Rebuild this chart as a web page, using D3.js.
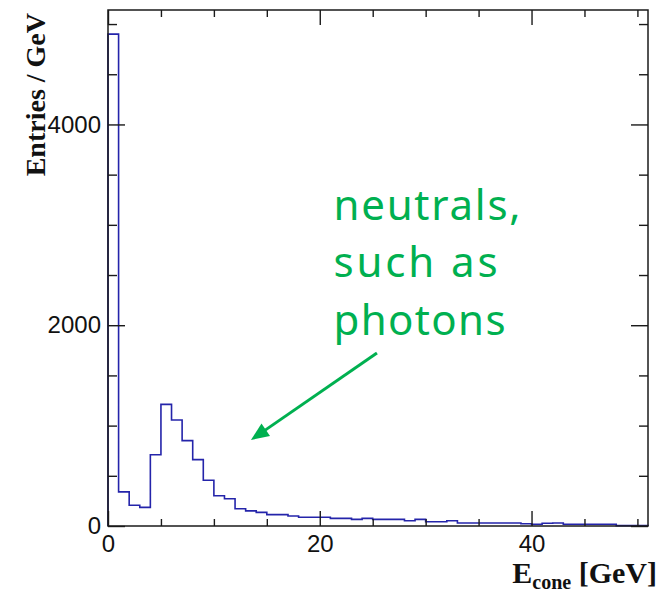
<!DOCTYPE html>
<html><head><meta charset="utf-8">
<script src="https://cdn.jsdelivr.net/npm/d3@7"></script>
<style>html,body{margin:0;padding:0;background:#fff;} svg{display:block;}</style>
</head><body>
<svg id="chart" width="659" height="600"></svg>
<script>
// ---- data ----
const binLowEdges = [0,1,2,3,4,5,6,7,8,9,10,11,12,13,14,15,16,17,18,19,20,21,22,23,24,25,26,27,28,29,30,31,32,33,34,35,36,37,38,39,40,41,42,43,44,45,46,47,48,49,50];
const binWidth = 1;
const counts = [4900,340,206,186,710,1212,1056,850,661,455,302,272,172,151,136,113,113,100,87,87,87,76,76,66,76,66,66,66,53,66,43,43,53,30,30,30,30,30,30,22,18,27,30,18,18,18,18,18,4,4,4];
const xDomain = [0, 51];
const yDomain = [0, 5140];
const xMajorTicks = [0, 20, 40];
const xTickLabels = ["0", "20", "40"];
const xMinorTicks = [5, 10, 15, 25, 30, 35, 45, 50];
const yMajorTicks = [0, 2000, 4000];
const yTickLabels = ["0", "2000", "4000"];
const yMinorTicks = [500, 1000, 1500, 2500, 3000, 3500, 4500, 5000];
const yTitle = "Entries / GeV";
const xTitleMain = "E";
const xTitleSub = "cone";
const xTitleUnit = " [GeV]";
const annotationLines = ["neutrals,", "such as", "photons"];
const annotationAnchor = [21.3, 3050];           // data coords of text start
const arrowFrom = [25.4, 1723];                   // data coords
const arrowTo = [13.5, 857];

// ---- layout ----
const L = 108, R = 648, T = 10, B = 526;
const svg = d3.select("#chart");
const x = d3.scaleLinear().domain(xDomain).range([L, R]);
const y = d3.scaleLinear().domain(yDomain).range([B, T]);
const axisColor = "#1a1a1a";
const labelFont = "'Liberation Sans', Arial, Helvetica, sans-serif";
const titleFont = "'Liberation Serif', 'Times New Roman', serif";

// histogram
const pts = [[xDomain[0], 0]];
binLowEdges.forEach((lo, i) => {
  pts.push([lo, counts[i]]);
  pts.push([lo + binWidth, counts[i]]);
});
pts.push([binLowEdges[binLowEdges.length - 1] + binWidth, 0]);
const line = d3.line().x(d => x(d[0])).y(d => y(d[1]));
svg.append("path").attr("d", line(pts))
  .attr("fill", "none").attr("stroke", "#2424aa").attr("stroke-width", 1.6);

function styleAxis(g) {
  g.select(".domain").remove();
  g.selectAll(".tick line").attr("stroke", axisColor).attr("stroke-width", 1.4);
  g.selectAll("text").attr("font-family", labelFont).attr("font-size", 24).attr("fill", "#111");
}
// bottom
svg.append("g").attr("transform", `translate(0,${B})`)
  .call(d3.axisBottom(x).tickValues(xMajorTicks).tickFormat((d, i) => xTickLabels[i]).tickSize(-15).tickPadding(9))
  .call(styleAxis);
svg.append("g").attr("transform", `translate(0,${B})`)
  .call(d3.axisBottom(x).tickValues(xMinorTicks).tickFormat("").tickSize(-7)).call(styleAxis);
// top
svg.append("g").attr("transform", `translate(0,${T})`)
  .call(d3.axisTop(x).tickValues(xMajorTicks).tickFormat("").tickSize(-15)).call(styleAxis);
svg.append("g").attr("transform", `translate(0,${T})`)
  .call(d3.axisTop(x).tickValues(xMinorTicks).tickFormat("").tickSize(-7)).call(styleAxis);
// left
svg.append("g").attr("transform", `translate(${L},0)`)
  .call(d3.axisLeft(y).tickValues(yMajorTicks).tickFormat((d, i) => yTickLabels[i]).tickSize(-17).tickPadding(7))
  .call(styleAxis);
svg.append("g").attr("transform", `translate(${L},0)`)
  .call(d3.axisLeft(y).tickValues(yMinorTicks).tickFormat("").tickSize(-9)).call(styleAxis);
// right
svg.append("g").attr("transform", `translate(${R},0)`)
  .call(d3.axisRight(y).tickValues(yMajorTicks).tickFormat("").tickSize(-17)).call(styleAxis);
svg.append("g").attr("transform", `translate(${R},0)`)
  .call(d3.axisRight(y).tickValues(yMinorTicks).tickFormat("").tickSize(-9)).call(styleAxis);

// frame
svg.append("rect").attr("x", L).attr("y", T).attr("width", R - L).attr("height", B - T)
  .attr("fill", "none").attr("stroke", axisColor).attr("stroke-width", 1.5);

// titles
svg.append("text").attr("transform", `translate(45,${T + 3}) rotate(-90)`)
  .attr("text-anchor", "end").attr("font-family", titleFont).attr("font-weight", "bold")
  .attr("font-size", 28).attr("fill", "#111").text(yTitle);
const xt = svg.append("text").attr("x", 657).attr("y", 583).attr("text-anchor", "end")
  .attr("font-family", titleFont).attr("font-weight", "bold").attr("font-size", 30).attr("fill", "#111");
xt.append("tspan").text(xTitleMain);
xt.append("tspan").attr("font-size", 20).attr("dy", 6).text(xTitleSub);
xt.append("tspan").attr("dy", -6).text(xTitleUnit);

// annotation
const green = "#00b050";
const lineWidths = [187, 164, 172];
annotationLines.forEach((s, i) => {
  svg.append("text").attr("font-family", "'Noto Sans', sans-serif").attr("font-weight", 400)
    .attr("font-size", 42).attr("fill", green)
    .attr("x", x(annotationAnchor[0])).attr("y", y(annotationAnchor[1]) + i * 57.5)
    .attr("textLength", lineWidths[i]).attr("lengthAdjust", "spacing").text(s);
});
const x1 = x(arrowFrom[0]), y1 = y(arrowFrom[1]), x2 = x(arrowTo[0]), y2 = y(arrowTo[1]);
const dx = x2 - x1, dy = y2 - y1, len = Math.hypot(dx, dy), ux = dx / len, uy = dy / len;
const headL = 18, headW = 7.5;
const bx = x2 - ux * headL, by = y2 - uy * headL;
svg.append("line").attr("x1", x1).attr("y1", y1).attr("x2", bx + ux * 2).attr("y2", by + uy * 2)
  .attr("stroke", green).attr("stroke-width", 3);
svg.append("path").attr("d", `M${x2},${y2}L${bx - uy * headW},${by + ux * headW}L${bx + uy * headW},${by - ux * headW}Z`)
  .attr("fill", green);
</script>
</body></html>
